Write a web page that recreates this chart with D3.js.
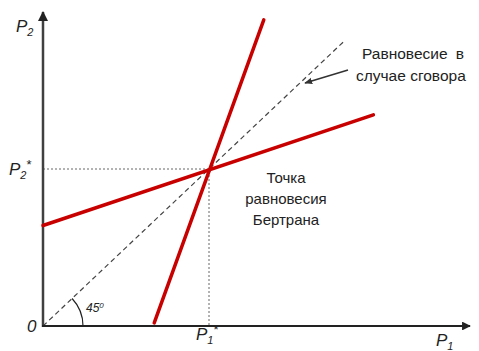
<!DOCTYPE html>
<html><head><meta charset="utf-8">
<script src="https://cdn.jsdelivr.net/npm/d3@7"></script>
<style>body{margin:0;background:#fff}svg{display:block;font-family:"Liberation Sans",Arial,sans-serif}</style>
</head><body><svg id="c" width="479" height="351"></svg>
<script>
// data (units where P1* = P2* = 1)
const collusionLine = [[0,0],[1.82,1.82]];
const reactionSteep = [[0.67,0.02],[1.33,1.95]];
const reactionFlat = [[0,0.64],[1.99,1.345]];
const equilibrium = [1,1];
const labels = {p1:"P", p2:"P", collusion:["Равновесие в","случае сговора"], bertrand:["Точка","равновесия","Бертрана"], angle:"45"};

const svg = d3.select("#c");
const x = d3.scaleLinear().domain([0,1]).range([43,209]);
const y = d3.scaleLinear().domain([0,1]).range([326,169]);
const axisColor = "#404040";

const defs = svg.append("defs");
defs.append("marker").attr("id","ah").attr("viewBox","0 0 10 10").attr("refX",9).attr("refY",5)
 .attr("markerWidth",4).attr("markerHeight",4).attr("orient","auto")
 .append("path").attr("d","M0,0L10,5L0,10z").attr("fill","#222");
defs.append("marker").attr("id","ah2").attr("viewBox","0 0 10 10").attr("refX",9).attr("refY",5)
 .attr("markerWidth",5).attr("markerHeight",5).attr("orient","auto")
 .append("path").attr("d","M0,1L10,5L0,9z").attr("fill","#333");

const line = d3.line().x(d=>x(d[0])).y(d=>y(d[1]));

// dotted guide lines
svg.append("path").attr("d",line([[0,equilibrium[1]],equilibrium,[equilibrium[0],0]]))
 .attr("fill","none").attr("stroke","#555").attr("stroke-width",0.9).attr("stroke-dasharray","2,2");

// dashed 45 line
svg.append("path").attr("d",line(collusionLine)).attr("fill","none")
 .attr("stroke","#444").attr("stroke-width",1.2).attr("stroke-dasharray","5,3.5");

// 45 arc
const r = 40;
const ang = Math.atan2(y(0)-y(collusionLine[1][1]), x(collusionLine[1][0])-x(0));
svg.append("path").attr("d",`M${x(0)+r},${y(0)} A${r},${r} 0 0 0 ${x(0)+r*Math.cos(ang)},${y(0)-r*Math.sin(ang)}`)
 .attr("fill","none").attr("stroke","#222").attr("stroke-width",1.2);

// axes
svg.append("line").attr("x1",x(0)).attr("y1",y(0)+1).attr("x2",x(0)).attr("y2",12)
 .attr("stroke",axisColor).attr("stroke-width",2.5).attr("marker-end","url(#ah)");
svg.append("line").attr("x1",x(0)-1).attr("y1",y(0)).attr("x2",470).attr("y2",y(0))
 .attr("stroke","#222").attr("stroke-width",2.2).attr("marker-end","url(#ah)");

// red reaction lines
[reactionSteep,reactionFlat].forEach(d=>svg.append("path").attr("d",line(d))
 .attr("fill","none").attr("stroke","#c80000").attr("stroke-width",3.5).attr("stroke-linecap","round"));

// annotation arrow
svg.append("line").attr("x1",348).attr("y1",70).attr("x2",305).attr("y2",83)
 .attr("stroke","#333").attr("stroke-width",1.6).attr("marker-end","url(#ah2)");

function sub(xx, yy, base, s, star){
  const te = svg.append("text").attr("x",xx).attr("y",yy).attr("font-size",17).attr("font-style","italic").attr("fill","#222");
  te.append("tspan").text(base);
  te.append("tspan").attr("font-size",11).attr("dy",4).text(s);
  if(star) te.append("tspan").attr("font-size",13).attr("dy",-10).attr("font-style","normal").text("*");
}
sub(16,32,labels.p2,"2",false);
sub(9,175,labels.p2,"2",true);
sub(196,340,labels.p1,"1",true);
sub(436,346,labels.p1,"1",false);
svg.append("text").attr("x",27).attr("y",332).attr("font-size",17).attr("font-style","italic").attr("fill","#222").text("0");
const t45 = svg.append("text").attr("x",86).attr("y",312).attr("font-size",12).attr("font-style","italic").attr("fill","#222");
t45.append("tspan").text(labels.angle);
t45.append("tspan").attr("font-size",8).attr("dy",-4).text("0");

svg.append("g").selectAll("text").data(labels.collusion).join("text")
 .attr("x",(d,i)=>i===0?362:356).attr("y",(d,i)=>59+i*22).attr("font-size",15.5).attr("fill","#222")
 .attr("word-spacing",(d,i)=>i===0?4:0).text(d=>d);
svg.append("g").selectAll("text").data(labels.bertrand).join("text")
 .attr("x",286).attr("y",(d,i)=>183+i*21).attr("text-anchor","middle").attr("font-size",15).attr("fill","#222").text(d=>d);
</script></body></html>
